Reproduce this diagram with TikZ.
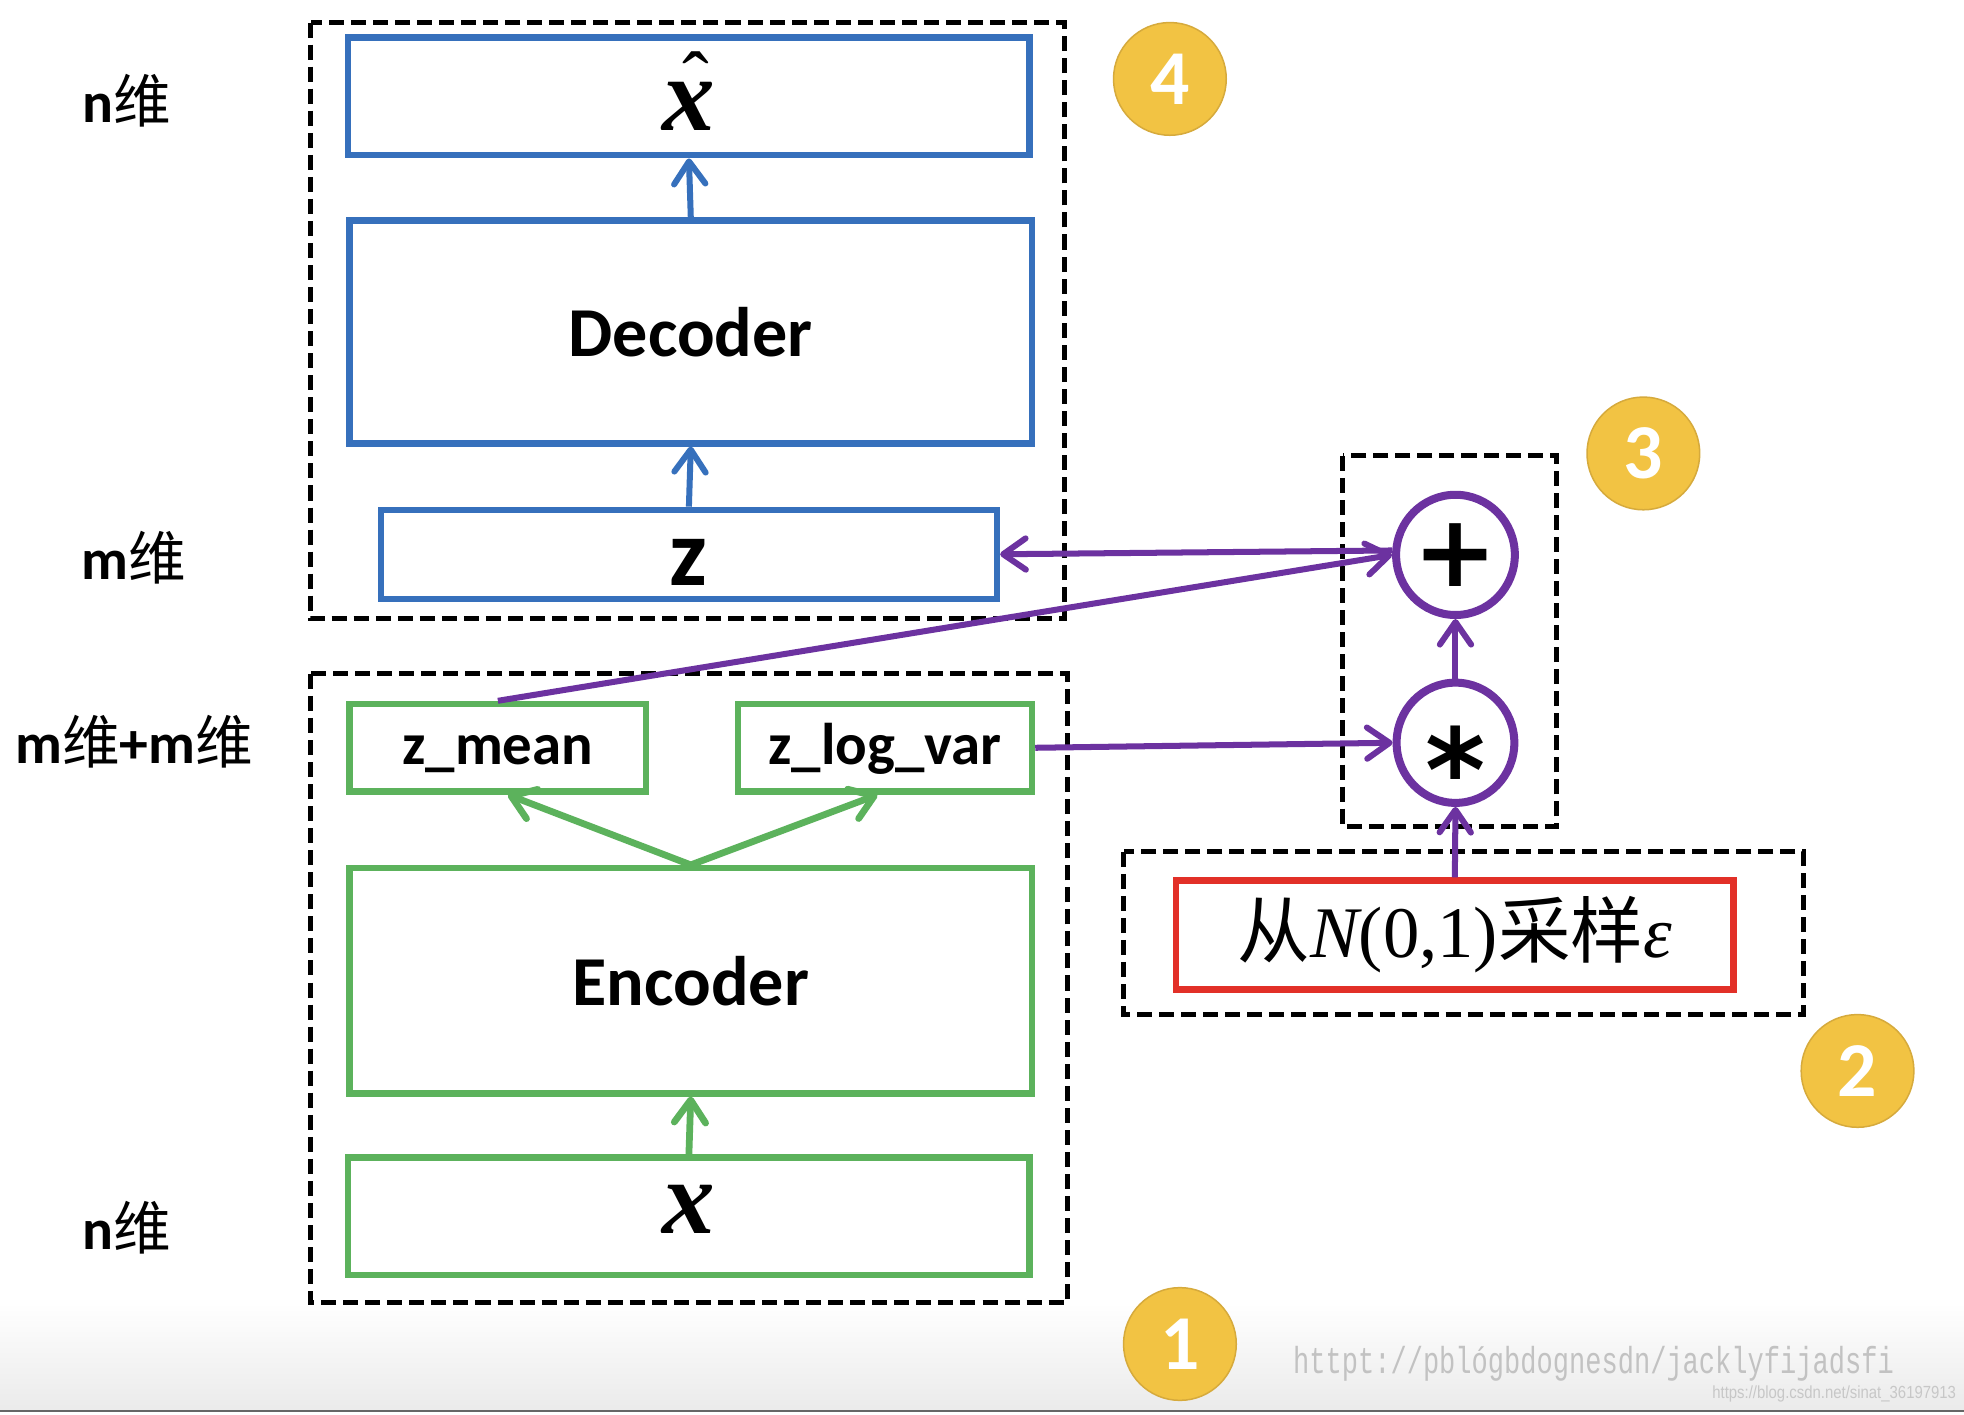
\documentclass[tikz,border=0pt]{standalone}
\usepackage{fontspec}
\usepackage{graphicx}
\setmainfont{Carlito}
\newfontfamily\cjk{Noto Sans CJK SC}
\newfontfamily\tms{Liberation Serif}
\newfontfamily\djv{DejaVu Sans}
\newfontfamily\mono{Liberation Mono}
\newfontfamily\lsans{Liberation Sans}
\usetikzlibrary{arrows.meta,shapes.geometric,calc}
\definecolor{cblue}{RGB}{54,112,188}
\definecolor{cgreen}{RGB}{92,178,92}
\definecolor{cpurple}{RGB}{108,50,160}
\definecolor{cred}{RGB}{226,48,40}
\definecolor{cyel}{RGB}{242,195,67}
\definecolor{cyeld}{RGB}{214,170,60}
\begin{document}
\begin{tikzpicture}[x=0.5pt,y=-0.5pt,
  bluebox/.style={draw=cblue,line width=2.5pt,inner sep=0pt},
  greenbox/.style={draw=cgreen,line width=2.5pt,inner sep=0pt},
  redbox/.style={draw=cred,line width=2.5pt,inner sep=0pt},
  grp/.style={draw=black,line width=2pt,dash pattern=on 6pt off 2.8pt},
  opnode/.style={ellipse,draw=cpurple,line width=3.2pt,minimum width=47pt,minimum height=48pt,inner sep=0pt},
  badge/.style={circle,draw=cyeld,line width=0.6pt,fill=cyel,minimum size=45pt,inner sep=0pt,text=white,font=\fontsize{31}{31}\selectfont\bfseries},
  dimlabel/.style={font=\fontsize{23}{23}\selectfont\bfseries},
  tip/.style={-{Straight Barb[length=9pt,width=12.5pt,round]}},
  barr/.style={draw=cblue,line width=2.4pt,tip},
  garr/.style={draw=cgreen,line width=2.7pt,tip},
  parr/.style={draw=cpurple,line width=2.4pt,tip},
  bigtxt/.style={font=\fontsize{28}{28}\selectfont\bfseries},
  midtxt/.style={font=\fontsize{23.5}{23.5}\selectfont\bfseries},
  vartxt/.style={font=\fontsize{42}{42}\selectfont\tms\bfseries\itshape}
]
\useasboundingbox (0,0) rectangle (1568,1129);
\fill[white] (0,0) rectangle (1568,1129);
\shade[top color=white,bottom color=black!8] (0,1040) rectangle (1568,1125);
\fill[black!60] (0,1125.5) rectangle (1568,1127.5);

% dimension labels
\node[dimlabel] (ln1) at (101,80) {n{\cjk\mdseries 维}};
\node[dimlabel] (lm1) at (107,445) {m{\cjk\mdseries 维}};
\node[dimlabel] (lmm) at (107,592) {m{\cjk\mdseries 维}+m{\cjk\mdseries 维}};
\node[dimlabel] (ln2) at (101,980) {n{\cjk\mdseries 维}};

% group frames
\draw[grp] (248,18) rectangle (850,494);
\draw[grp] (248,538) rectangle (852,1040);
\draw[grp] (1072,364) rectangle (1243,660);
\draw[grp] (897,680) rectangle (1440,810);

% decoder side
\node[bluebox,minimum width=272pt,minimum height=47pt,vartxt] (xhat) at (550,77)
  {\smash{\raisebox{-13.6pt}{\ooalign{x\cr\hidewidth\kern0.14em\raisebox{9pt}{\mdseries\upshape\fontsize{32}{32}\selectfont ˆ}\hidewidth\cr}}}};
\node[bluebox,minimum width=272.5pt,minimum height=89pt,bigtxt] (dec) at (551.5,265) {Decoder};
\node[bluebox,minimum width=246pt,minimum height=35.5pt,font=\fontsize{38}{38}\selectfont\bfseries] (z) at (550,442.5) {\smash{\raisebox{-12.6pt}{z}}};

% encoder side
\node[greenbox,minimum width=118.5pt,minimum height=35pt,midtxt] (zmean) at (397.5,597) {\smash{\raisebox{-6.8pt}{z\_mean}}};
\node[greenbox,minimum width=117.5pt,minimum height=35pt,midtxt] (zlv) at (706.5,597) {\smash{\raisebox{-6.8pt}{z\_log\_var}}};
\node[greenbox,minimum width=272.5pt,minimum height=90pt,bigtxt] (enc) at (551.5,783) {Encoder};
\node[greenbox,minimum width=272pt,minimum height=47pt,vartxt] (x) at (550,971) {\smash{\raisebox{-6.7pt}{x}}};

% operators
\node[opnode,font=\fontsize{40}{40}\selectfont\djv\bfseries] (plus) at (1162,443) {+};
\node[opnode,font=\fontsize{46}{46}\selectfont\djv\bfseries] (star) at (1162,593) {\smash{\raisebox{-0.6em}{*}}};

% sampling
\node[redbox,minimum width=222.5pt,minimum height=43.5pt,font=\fontsize{29}{29}\selectfont] (samp) at (1161.5,746.5)
  {{\cjk 从}{\tms\itshape N}{\tms (0,1)}{\cjk 采样}{\tms\itshape ε}};

% badges
\node[badge] (b4) at (934,63) {4};
\node[badge] (b3) at (1312,362) {3};
\node[badge] (b2) at (1483,855) {2};
\node[badge] (b1) at (942,1073) {1};

% connectors
\draw[barr] (dec.north) -- (xhat.south);
\draw[barr] (z.north) -- (dec.south);
\draw[garr] (x.north) -- (enc.south);
\draw[garr] (enc.north) -- ($(zmean.south)+(8,0)$);
\draw[garr] (enc.north) -- ($(zlv.south)+(-6,0)$);
\draw[parr] (zlv.east) -- (star.west);
\draw[parr] (samp.north) -- (star.south);
\draw[parr] (star.north) -- (plus.south);
\draw[parr] (zmean.north) -- (plus.west);
\draw[parr] (plus.176) -- (z.east);

% watermarks
\node[anchor=west,text=black!24,inner sep=0pt] (wm1) at (1032,1089) {\scalebox{0.72}[1]{\fontsize{15}{15}\selectfont\mono httpt://pblógbdognesdn/jacklyfijadsfi}};
\node[anchor=east,text=black!22,inner sep=0pt] (wm2) at (1562,1113) {\scalebox{0.85}[1]{\fontsize{7}{7}\selectfont\lsans https://blog.csdn.net/sinat\_36197913}};
\end{tikzpicture}
\end{document}
